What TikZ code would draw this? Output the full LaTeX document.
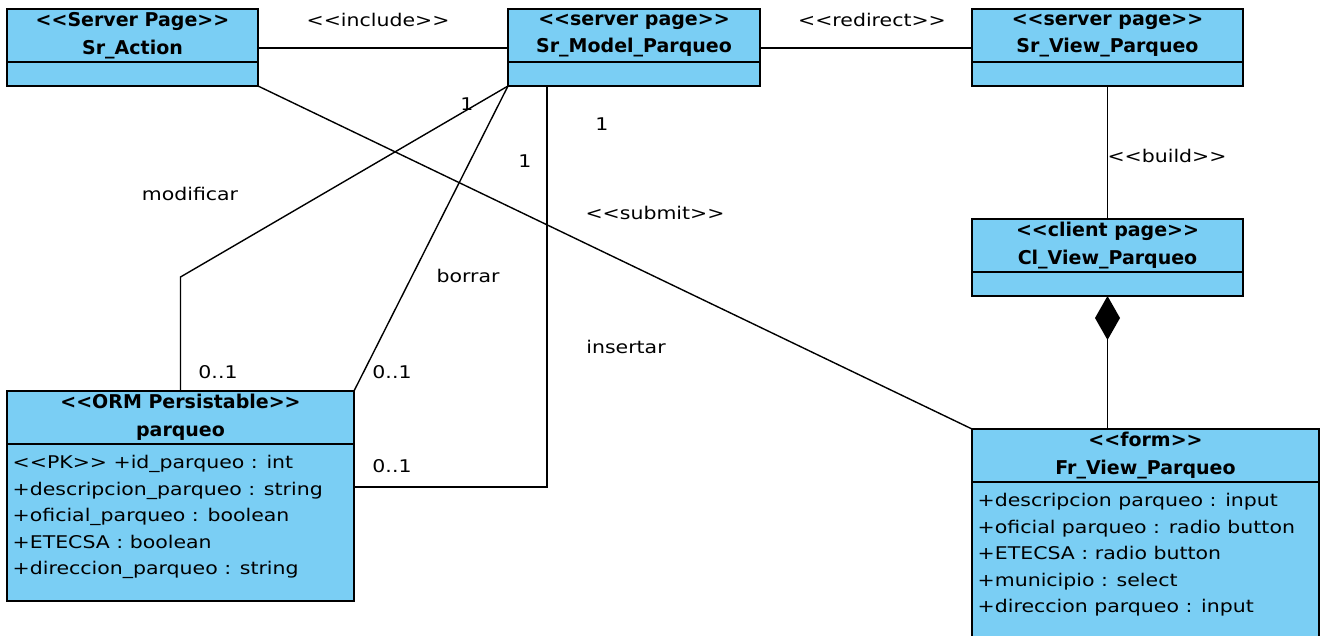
\documentclass[tikz,border=0pt]{standalone}
\usepackage{fontspec}
\setmainfont{DejaVu Sans}[FakeStretch=1.17]
\newfontfamily\headfont{DejaVu Sans Bold}
\usepackage{xcolor}
\usepackage{tikz}
\usetikzlibrary{positioning,arrows.meta}

\definecolor{umlblue}{RGB}{122,206,244}
\newcommand{\stereo}[1]{<{}<#1>{}>}

\begin{document}
\begin{tikzpicture}[
  x=1pt, y=-1pt,
  line width=1.4pt,
  every node/.style={font=\fontsize{17.5}{26.5}\selectfont, inner sep=1pt},
  head/.style={rectangle, draw, line width=1.6pt, fill=umlblue, align=center, minimum height=53pt, outer sep=0pt, font=\headfont\fontsize{19}{27.5}\selectfont},
  comp/.style={rectangle, draw, line width=1.6pt, fill=umlblue, minimum height=24pt, outer sep=0pt},
  attrs/.style={align=left, inner sep=3pt}
]
\clip (0,0) rectangle (1323,636);

% Top row: server pages
\node[head, minimum width=251pt] (action) at (132.5,35.5) {\stereo{Server Page}\\Sr\_Action};
\node[comp, minimum width=251pt, below=0pt of action] (actionc) {};

\node[head, minimum width=252pt] (model) at (634,35.5) {\stereo{server page}\\Sr\_Model\_Parqueo};
\node[comp, minimum width=252pt, below=0pt of model] (modelc) {};

\node[head, minimum width=271pt] (view) at (1107.5,35.5) {\stereo{server page}\\Sr\_View\_Parqueo};
\node[comp, minimum width=271pt, below=0pt of view] (viewc) {};

% Client page
\node[head, minimum width=271pt] (client) at (1107.5,245.5) {\stereo{client page}\\Cl\_View\_Parqueo};
\node[comp, minimum width=271pt, below=0pt of client] (clientc) {};

% Form
\node[head, minimum width=347pt] (form) at (1145.5,455.5) {\stereo{form}\\Fr\_View\_Parqueo};
\node[comp, minimum width=347pt, minimum height=180pt, below=0pt of form] (formb) {};
\node[attrs, below right=8pt and 2pt of formb.north west] (formattr) {+descripcion parqueo : input\\+oficial parqueo : radio button\\+ETECSA : radio button\\+municipio : select\\+direccion parqueo : input};

% Persistable class
\node[head, minimum width=347pt] (parqueo) at (180.5,417.5) {\stereo{ORM Persistable}\\parqueo};
\node[comp, minimum width=347pt, minimum height=157pt, below=0pt of parqueo] (parqueob) {};
\node[attrs, below right=8pt and 2pt of parqueob.north west] (parqueoattr) {\stereo{PK} +id\_parqueo : int\\+descripcion\_parqueo : string\\+oficial\_parqueo : boolean\\+ETECSA : boolean\\+direccion\_parqueo : string};

% Bend points
\coordinate (bendM) at (180.5,277);
\coordinate (bendI) at (547,487);

% Connectors
\draw ([yshift=-12.5pt]action.east) -- ([yshift=-12.5pt]model.west);
\draw ([yshift=-12.5pt]model.east) -- ([yshift=-12.5pt]view.west);
\draw (viewc.south) -- (client.north);
\draw[{Diamond[length=44pt, width=25pt]}-] (clientc.south) -- (clientc.south |- form.north);
\draw (actionc.south east) -- (form.north west);
\draw (modelc.south west) -- (bendM) -- (parqueo.north);
\draw (modelc.south west) -- (parqueo.north east);
\draw (bendI |- modelc.south) -- (bendI) -- (bendI -| parqueob.east);

% Labels
\node (lInclude) at (378,20) {\stereo{include}};
\node (lRedirect) at (872,20) {\stereo{redirect}};
\node (lBuild) at (1167,156) {\stereo{build}};
\node (lSubmit) at (655,213) {\stereo{submit}};
\node (lModificar) at (190,194) {modificar};
\node (lBorrar) at (468,276) {borrar};
\node (lInsertar) at (626,347) {insertar};
\node (mModA) at (467,104) {1};
\node (mBorA) at (525,161) {1};
\node (mInsA) at (602,124) {1};
\node (mModB) at (218,372) {0..1};
\node (mBorB) at (392,372) {0..1};
\node (mInsB) at (392,466) {0..1};
\end{tikzpicture}
\end{document}
